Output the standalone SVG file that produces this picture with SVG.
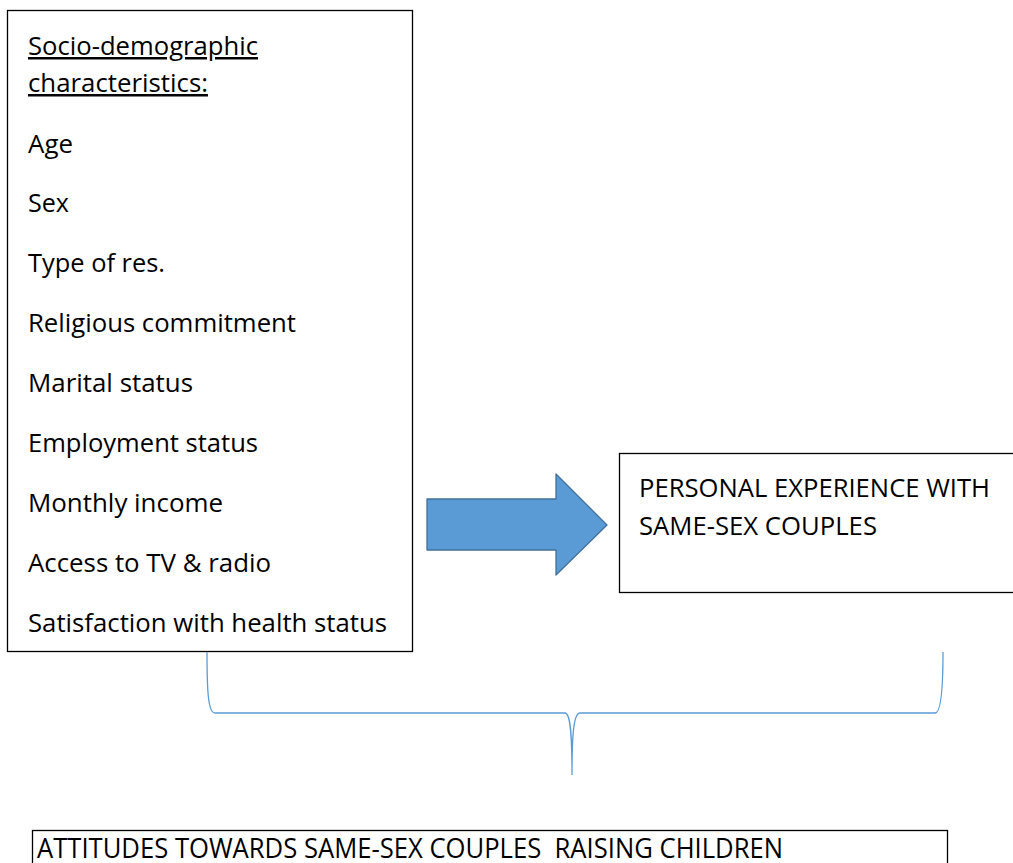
<svg xmlns="http://www.w3.org/2000/svg" width="1013" height="863" viewBox="0 0 1013 863">
<style>
.box{fill:#fff;stroke:#000;stroke-width:1.3}
.t{font-family:"Open Sans","Noto Sans","Liberation Sans",sans-serif;font-size:25px;fill:#000;white-space:pre}
.u{text-decoration:underline}
.big{font-size:28px}
.brace{fill:none;stroke:#5B9BD5;stroke-width:1.3}
</style>
<rect width="1013" height="863" fill="#fff"/>
<g id="socio">
<rect class="box" x="7.5" y="10.5" width="405" height="641"/>
<text class="t u" x="28" y="55" textLength="230" lengthAdjust="spacingAndGlyphs">Socio-demographic</text>
<text class="t u" x="28" y="92" textLength="180" lengthAdjust="spacingAndGlyphs">characteristics:</text>
<text class="t" x="28" y="153" textLength="45" lengthAdjust="spacingAndGlyphs">Age</text>
<text class="t" x="28" y="212" textLength="41" lengthAdjust="spacingAndGlyphs">Sex</text>
<text class="t" x="28" y="272" textLength="137" lengthAdjust="spacingAndGlyphs">Type of res.</text>
<text class="t" x="28" y="332" textLength="268" lengthAdjust="spacingAndGlyphs">Religious commitment</text>
<text class="t" x="28" y="392" textLength="165" lengthAdjust="spacingAndGlyphs">Marital status</text>
<text class="t" x="28" y="452" textLength="230" lengthAdjust="spacingAndGlyphs">Employment status</text>
<text class="t" x="28" y="512" textLength="195" lengthAdjust="spacingAndGlyphs">Monthly income</text>
<text class="t" x="28" y="572" textLength="243" lengthAdjust="spacingAndGlyphs">Access to TV &amp; radio</text>
<text class="t" x="28" y="632" textLength="359" lengthAdjust="spacingAndGlyphs">Satisfaction with health status</text>
</g>
<g id="experience">
<rect class="box" x="619.5" y="453.5" width="400" height="139"/>
<text class="t" x="639" y="497" textLength="351" lengthAdjust="spacingAndGlyphs">PERSONAL EXPERIENCE WITH</text>
<text class="t" x="639" y="535" textLength="238" lengthAdjust="spacingAndGlyphs">SAME-SEX COUPLES</text>
</g>
<g id="attitudes">
<rect class="box" x="32.5" y="830.5" width="915" height="60"/>
<text class="t big" x="37" y="858" textLength="746" lengthAdjust="spacingAndGlyphs" xml:space="preserve">ATTITUDES TOWARDS SAME-SEX COUPLES  RAISING CHILDREN</text>
</g>
<g id="connectors">
<polygon points="427,499 556,499 556,474 607,525 556,575 556,550 427,550" fill="#5B9BD5" stroke="#41719C" stroke-width="1.3" stroke-linejoin="round"/>
<path class="brace" d="M207,652 C207,690 208,713 215,713 L565,713 C571,713 572,740 572,775 C572,740 573,713 580,713 L935,713 C941,713 943,690 943,652"/>
</g>
</svg>
